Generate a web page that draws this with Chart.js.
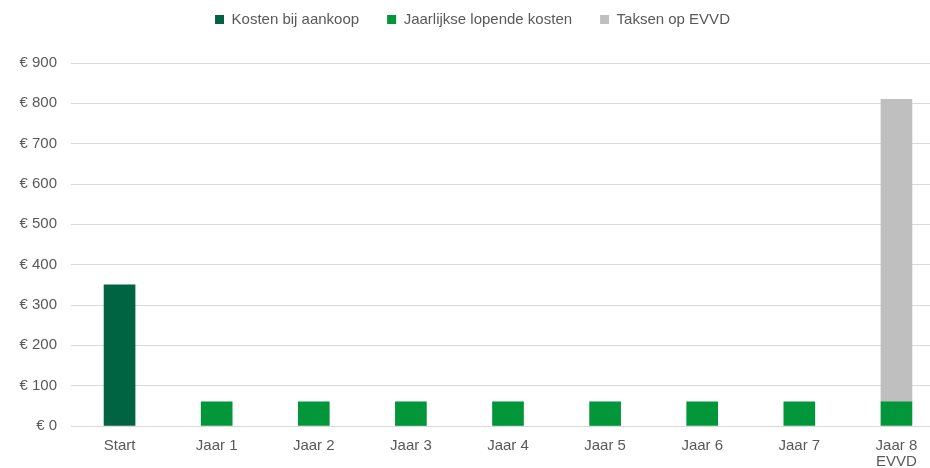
<!DOCTYPE html>
<html>
<head>
<meta charset="utf-8">
<script src="https://cdn.jsdelivr.net/npm/chart.js@4/dist/chart.umd.min.js"></script>
<style>
  html, body { margin: 0; padding: 0; overflow: hidden; background: #ffffff; }
  #wrap { position: absolute; left: 0; top: 0; width: 945px; height: 468px; }
</style>
</head>
<body>
<div id="wrap"><canvas id="c"></canvas></div>
<script>
const categories = ['Start', 'Jaar 1', 'Jaar 2', 'Jaar 3', 'Jaar 4', 'Jaar 5', 'Jaar 6', 'Jaar 7', ['Jaar 8', 'EVVD']];
const seriesNames = ['Kosten bij aankoop', 'Jaarlijkse lopende kosten', 'Taksen op EVVD'];
const kostenBijAankoop = [350, null, null, null, null, null, null, null, null];
const jaarlijkseKosten = [null, 60, 60, 60, 60, 60, 60, 60, 60];
const taksenEVVD = [null, null, null, null, null, null, null, null, 750];
const yTicks = [0, 100, 200, 300, 400, 500, 600, 700, 800, 900];

const colors = ['#006341', '#009639', '#BFBFBF'];
const textColor = '#595959';
const fontFamily = '"Liberation Sans", Arial, sans-serif';

const legendTweak = {
  id: 'legendTweak',
  beforeLayout(chart) {
    const lg = chart.legend;
    if (lg && !lg._patched) {
      const orig = lg.fit;
      lg.fit = function () { orig.call(this); this.height = 63; };
      lg._patched = true;
    }
  },
  afterLayout(chart) {
    const lg = chart.legend;
    if (lg) { lg.top = -16; lg.bottom = lg.top + 63; }
  }
};

new Chart(document.getElementById('c'), {
  type: 'bar',
  data: {
    labels: categories,
    datasets: [
      { label: seriesNames[0], data: kostenBijAankoop, backgroundColor: colors[0] },
      { label: seriesNames[1], data: jaarlijkseKosten, backgroundColor: colors[1] },
      { label: seriesNames[2], data: taksenEVVD, backgroundColor: colors[2] }
    ]
  },
  options: {
    responsive: true,
    maintainAspectRatio: false,
    animation: false,
    layout: { padding: 0 },
    datasets: { bar: { barThickness: 31 } },
    plugins: {
      tooltip: { enabled: false },
      legend: {
        position: 'top',
        align: 'center',
        labels: {
          boxWidth: 9,
          boxHeight: 9,
          padding: 28,
          color: textColor,
          font: { family: fontFamily, size: 15 }
        }
      }
    },
    scales: {
      x: {
        stacked: true,
        offset: true,
        grid: { display: false, drawTicks: false },
        border: { display: false },
        ticks: {
          color: textColor,
          padding: 12,
          maxRotation: 0,
          autoSkip: false,
          font: { family: fontFamily, size: 15, lineHeight: '16px' }
        },
        afterFit(scale) { scale.height = 42; }
      },
      y: {
        stacked: true,
        min: 0,
        max: 900,
        afterBuildTicks(scale) { scale.ticks = yTicks.map(v => ({ value: v })); },
        grid: { color: '#D9D9D9', lineWidth: 1, drawTicks: false },
        border: { display: false },
        ticks: {
          color: textColor,
          padding: 14,
          font: { family: fontFamily, size: 15 },
          callback: v => '€ ' + v
        },
        afterFit(scale) { scale.width = 71; }
      }
    }
  },
  plugins: [legendTweak]
});
</script>
</body>
</html>
